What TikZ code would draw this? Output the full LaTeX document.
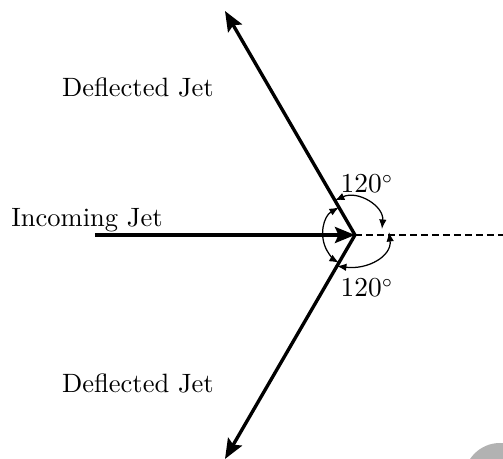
\documentclass[tikz,border=0pt]{standalone}
\usetikzlibrary{arrows.meta,calc}
\tikzset{
  jet/.style={line width=1.35pt,-{Stealth[length=8pt,width=6.4pt,inset=1.4pt]}},
  anglearc/.style={line width=0.5pt,{Latex[length=3.8pt,width=3pt]}-{Latex[length=3.8pt,width=3pt]}},
  lbl/.style={inner sep=0pt,anchor=base,font=\fontsize{10.6}{12}\selectfont}
}
\begin{document}
\begin{tikzpicture}[x=0.4pt,y=-0.4pt]
\useasboundingbox (0,0) rectangle (503,459);
\fill[black!30] (500,479) circle[radius=36];
\coordinate (v) at (355,235);
\coordinate (in) at (95,235);
\coordinate (t1) at (225,11);
\coordinate (t2) at (225,459);
\coordinate (d) at (503,235);
\draw[jet] (in) -- (v);
\draw[jet] (v) -- (t1);
\draw[jet] (v) -- (t2);
\draw[line width=0.45pt,dash pattern=on 2.8pt off 1.6pt] (v) -- (d);
% left arc
\coordinate (la) at ($(v)!12.8pt!(t1)$);
\coordinate (lb) at ($(v)!12.8pt!(t2)$);
\draw[anglearc] (la) arc[start angle=-120,end angle=-240,radius=32];
% upper right arc
\coordinate (ua) at ($(v)!16pt!(t1)$);
\coordinate (ub) at (382,229);
\draw[anglearc] (ua) .. controls (358,190) and (384,206) .. (ub);
% lower right arc
\coordinate (ra) at (389,232);
\coordinate (rb) at ($(v)!14.4pt!(t2)$);
\draw[anglearc] (ra) .. controls (392,256) and (368,270) .. (rb);
\node[lbl] (a1) at (367,193) {$120^\circ$};
\node[lbl] (a2) at (367,297) {$120^\circ$};
\node[lbl] (dj1) at (138,97) {Deflected Jet};
\node[lbl] (dj2) at (138,393) {Deflected Jet};
\node[lbl] (ij) at (87,227) {Incoming Jet};
\end{tikzpicture}
\end{document}
